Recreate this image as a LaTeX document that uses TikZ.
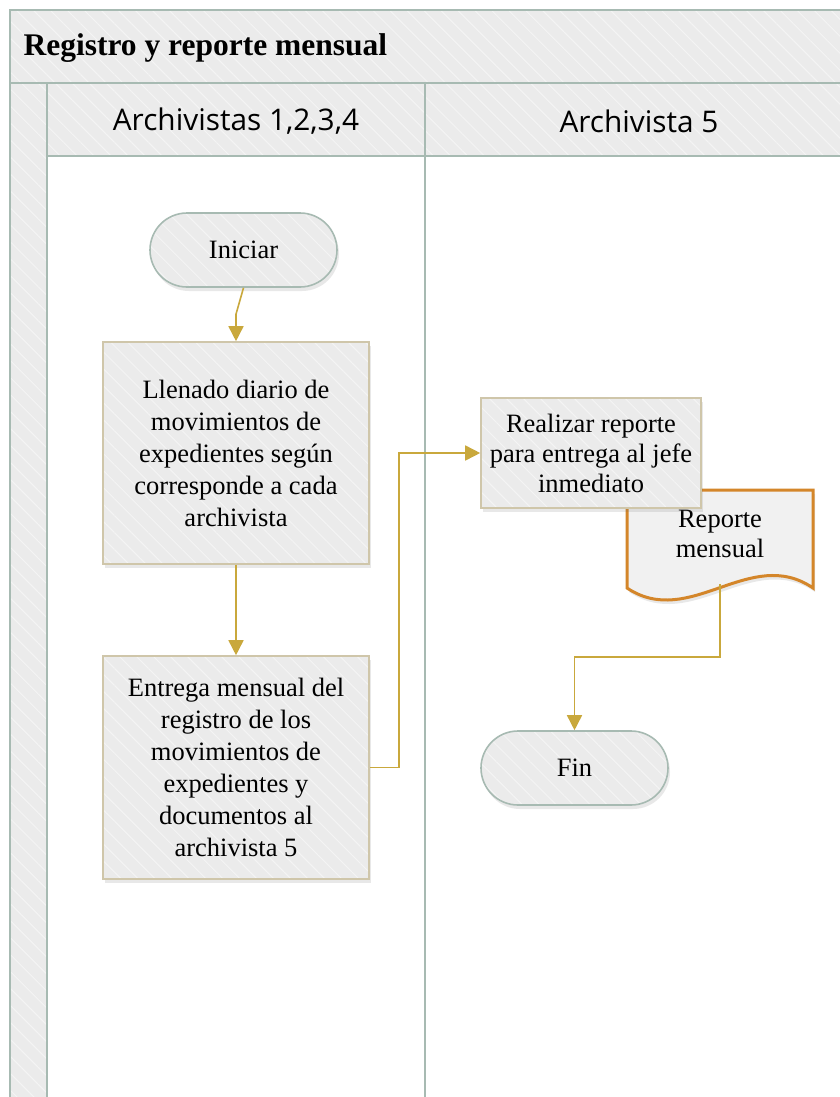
\documentclass[tikz,border=0pt]{standalone}
\usepackage{fontspec}
\setmainfont{Liberation Serif}
\newfontfamily\lanefont{Open Sans}
\usetikzlibrary{shadows,patterns.meta,arrows.meta,calc}

\definecolor{paneFill}{HTML}{EBEBEB}
\definecolor{laneLine}{HTML}{A7BAB2}
\definecolor{boxLine}{HTML}{CFC6AA}
\definecolor{flowLine}{HTML}{C9A83C}
\definecolor{docLine}{HTML}{D4862A}
\definecolor{docFill}{HTML}{F1F1F1}

\tikzset{
  softshadow/.style={drop shadow={shadow xshift=2pt, shadow yshift=-4pt,
    opacity=0.15, fill=black!60}},
  hatched/.style={preaction={fill=paneFill},
    pattern={Lines[angle=-45,distance=12pt,line width=1pt]},
    pattern color=white!45!paneFill},
  laneline/.style={draw=laneLine, line width=2pt},
  bodytext/.style={font=\fontsize{26.5}{32}\selectfont, align=center,
    text=black},
  terminal/.style={softshadow, hatched, bodytext, draw=laneLine,
    line width=1.6pt, rounded corners=37pt, minimum width=187pt,
    minimum height=74pt, inner sep=0pt},
  procbox/.style={softshadow, hatched, bodytext, draw=boxLine,
    line width=1.6pt, minimum width=266pt, inner sep=0pt},
  flow/.style={draw=flowLine, line width=1.6pt,
    -{Triangle[length=15pt,width=15pt]}},
  docshape/.style={softshadow, draw=docLine, fill=docFill, line width=3pt,
    line join=miter},
  lanetitle/.style={font=\lanefont\fontsize{29.8}{34}\selectfont},
}

\begin{document}
\begin{tikzpicture}[x=1pt,y=-1pt]
\useasboundingbox (0,0) rectangle (840,1097);

% pool frame, title band and lanes
\begin{scope}
  \clip (0,0) rectangle (840,1097);
  \fill[white] (0,0) rectangle (840,1097);
  \path[hatched] (10,10) rectangle (860,83);
  \path[hatched] (10,83) rectangle (47,1120);
  \path[hatched] (47,83) rectangle (860,156);
  \draw[laneline] (10,1120) -- (10,10) -- (860,10);
  \draw[laneline] (10,83) -- (860,83);
  \draw[laneline] (47,83) -- (47,1120);
  \draw[laneline] (47,156) -- (860,156);
  \draw[laneline] (425,83) -- (425,1120);
\end{scope}

\node[anchor=west, font=\fontsize{31.5}{36}\selectfont\bfseries]
  (title) at (20,48) {Registro y reporte mensual};
\node[lanetitle] (lane1) at (236,121) {Archivistas 1,2,3,4};
\node[lanetitle] (lane2) at (639,121) {Archivista 5};

% flow shapes
\node[terminal] (ini) at (243.5,250) {Iniciar};
\node[procbox, minimum height=222pt] (b1) at (236,453)
  {Llenado diario de\\movimientos de\\expedientes según\\corresponde a cada\\archivista};
\node[procbox, minimum height=223pt] (b2) at (236,767.5)
  {Entrega mensual del\\registro de los\\movimientos de\\expedientes y\\documentos al\\archivista 5};

% document shape with wavy bottom
\draw[docshape] (627,490) -- (813,490) -- (813,588)
  .. controls (750,545) and (690,630) .. (627,588) -- cycle;
\coordinate (docb) at (720,584);
\node[bodytext, font=\fontsize{26.5}{30}\selectfont] (doc) at (720,534)
  {Reporte\\mensual};

\node[procbox, minimum width=220pt, minimum height=110pt,
  font=\fontsize{26.5}{30}\selectfont] (b3) at (591,453)
  {Realizar reporte\\para entrega al jefe\\inmediato};

\node[terminal] (fin) at (574.5,768) {Fin};

% connectors
\draw[flow] (ini.south) -- ($(b1.north)+(0,-27)$) -- (b1.north);
\draw[flow] (b1.south) -- (b2.north);
\draw[flow] (b2.east) -- ++(29,0) |- (b3.west);
\draw[flow] (docb) -- ++(0,73) -| (fin.north);
\end{tikzpicture}
\end{document}
